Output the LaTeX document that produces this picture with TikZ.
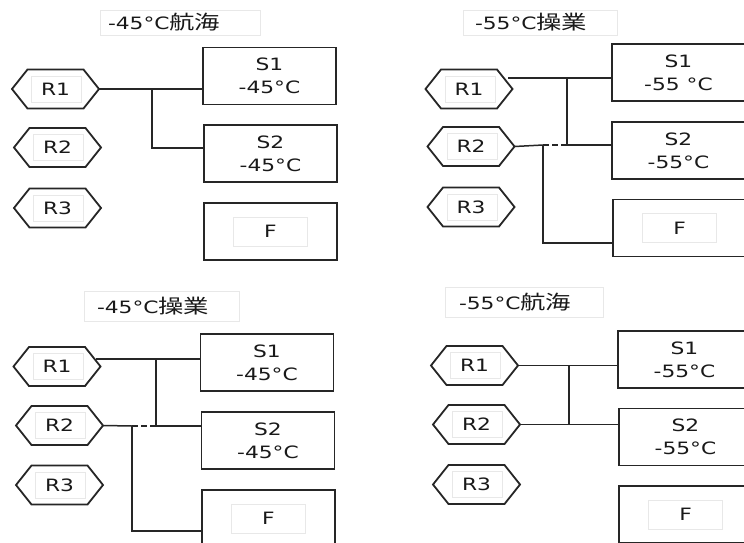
\documentclass[tikz,border=0pt]{standalone}
\usepackage{fontspec}
\setmainfont[FakeStretch=1.28]{DejaVu Sans}
\newfontfamily\cjk[FakeStretch=1.3]{Noto Sans CJK JP}
\usetikzlibrary{calc}
\tikzset{
  every node/.style={font=\fontsize{17}{23}\selectfont, text=black!90},
  box/.style={draw=black!85, line width=1.8pt, minimum width=133pt, minimum height=57pt, align=center, inner sep=0pt},
  hexn/.style={minimum width=87pt, minimum height=39pt, inner sep=0pt},
  hexline/.style={draw=black!85, line width=1.8pt, line join=miter},
  conn/.style={draw=black!85, line width=1.5pt},
  dconn/.style={conn, dash pattern=on 6pt off 3pt},
  faint/.style={draw=black!9, line width=0.8pt},
  titlebox/.style={draw=black!9, line width=0.8pt, inner xsep=0pt, inner ysep=0pt, align=left}
}
\newcommand\cjkt[1]{{\cjk\fontsize{19.5}{23}\selectfont #1}}
\newcommand\hexdraw[1]{%
  \draw[hexline] ([xshift=-43.5pt]#1.center) -- ([shift={(-28pt,19.5pt)}]#1.center)
    -- ([shift={(28pt,19.5pt)}]#1.center) -- ([xshift=43.5pt]#1.center)
    -- ([shift={(28pt,-19.5pt)}]#1.center) -- ([shift={(-28pt,-19.5pt)}]#1.center) -- cycle;
  \draw[faint] ([shift={(-24pt,-13pt)}]#1.center) rectangle ([shift={(26pt,13pt)}]#1.center);}
\newcommand\finner[1]{%
  \draw[faint] ([shift={(-37pt,-14.5pt)}]#1.center) rectangle ([shift={(37pt,14.5pt)}]#1.center);}
\begin{document}
\begin{tikzpicture}[x=1pt,y=-1pt]
\useasboundingbox (0,0) rectangle (744,543);
\fill[white] (0,0) rectangle (744,543);
\clip (0,0) rectangle (744,543);

% ---------- Panel 1: -45C 航海 ----------
\node[titlebox, minimum width=160pt, minimum height=25pt, text width=144pt] (T1) at (180,22.5) {-45°C\cjkt{航海}};
\node[hexn] (R1a) at (55.5,89) {R1};
\node[hexn] (R2a) at (57.5,147.5) {R2};
\node[hexn] (R3a) at (57.5,208) {R3};
\hexdraw{R1a}\hexdraw{R2a}\hexdraw{R3a}
\node[box] (S1a) at (269.5,76) {S1\\-45°C};
\node[box] (S2a) at (270.5,153.5) {S2\\-45°C};
\node[box] (Fa) at (270.5,231.5) {F};
\finner{Fa}
\coordinate (ja1) at (152,89);
\coordinate (ja2) at (152,148);
\draw[conn] (R1a.east) -- (R1a.east -| S1a.west);
\draw[conn] (ja1) -- (ja2) -- (ja2 -| S2a.west);

% ---------- Panel 2: -55C 操業 ----------
\node[titlebox, minimum width=154pt, minimum height=25pt, text width=130pt] (T2) at (540,22.5) {-55°C\cjkt{操業}};
\node[hexn] (R1b) at (469,89) {R1};
\node[hexn] (R2b) at (471,146.5) {R2};
\node[hexn] (R3b) at (471,207) {R3};
\hexdraw{R1b}\hexdraw{R2b}\hexdraw{R3b}
\node[box] (S1b) at (678.5,72.5) {S1\\-55 °C};
\node[box] (S2b) at (678.5,150.5) {S2\\-55°C};
\node[box] (Fb) at (679.5,228) {F};
\finner{Fb}
\coordinate (pb) at (508,78);
\coordinate (jb1) at (567,78);
\coordinate (jb2) at (567,145);
\coordinate (kb1) at (543,145);
\coordinate (kb2) at (543,243);
\draw[conn] (pb) -- (pb -| S1b.west);
\draw[conn] (jb1) -- (jb2) -- (jb2 -| S2b.west);
\draw[conn] (R2b.east) -- (kb1);
\draw[dconn] (kb1) -- (jb2);
\draw[conn] (kb1) -- (kb2) -- (kb2 -| Fb.west);

% ---------- Panel 3: -45C 操業 ----------
\node[titlebox, minimum width=155pt, minimum height=30pt, text width=129pt] (T3) at (161.5,306) {-45°C\cjkt{操業}};
\node[hexn] (R1c) at (57,366.5) {R1};
\node[hexn] (R2c) at (59.5,425.5) {R2};
\node[hexn] (R3c) at (59.5,485) {R3};
\hexdraw{R1c}\hexdraw{R2c}\hexdraw{R3c}
\node[box] (S1c) at (267,362.5) {S1\\-45°C};
\node[box] (S2c) at (268,440.5) {S2\\-45°C};
\node[box] (Fc) at (268.5,518.5) {F};
\finner{Fc}
\coordinate (pc) at (96,359);
\coordinate (jc1) at (156,359);
\coordinate (jc2) at (156,426);
\coordinate (kc1) at (132,426);
\coordinate (kc2) at (132,531);
\draw[conn] (pc) -- (pc -| S1c.west);
\draw[conn] (jc1) -- (jc2) -- (jc2 -| S2c.west);
\draw[conn] (R2c.east) -- (kc1);
\draw[dconn] (kc1) -- (jc2);
\draw[conn] (kc1) -- (kc2) -- (kc2 -| Fc.west);

% ---------- Panel 4: -55C 航海 ----------
\node[titlebox, minimum width=158pt, minimum height=30pt, text width=130pt] (T4) at (524,302) {-55°C\cjkt{航海}};
\node[hexn] (R1d) at (474.5,365.5) {R1};
\node[hexn] (R2d) at (476.5,424.5) {R2};
\node[hexn] (R3d) at (476.5,484.5) {R3};
\hexdraw{R1d}\hexdraw{R2d}\hexdraw{R3d}
\node[box] (S1d) at (684.5,359.5) {S1\\-55°C};
\node[box] (S2d) at (685.5,437) {S2\\-55°C};
\node[box] (Fd) at (685.5,514.5) {F};
\finner{Fd}
\coordinate (jd1) at (569,365.5);
\coordinate (jd2) at (569,424.5);
\draw[conn] (R1d.east) -- (R1d.east -| S1d.west);
\draw[conn] (R2d.east) -- (R2d.east -| S2d.west);
\draw[conn] (jd1) -- (jd2);
\end{tikzpicture}
\end{document}
